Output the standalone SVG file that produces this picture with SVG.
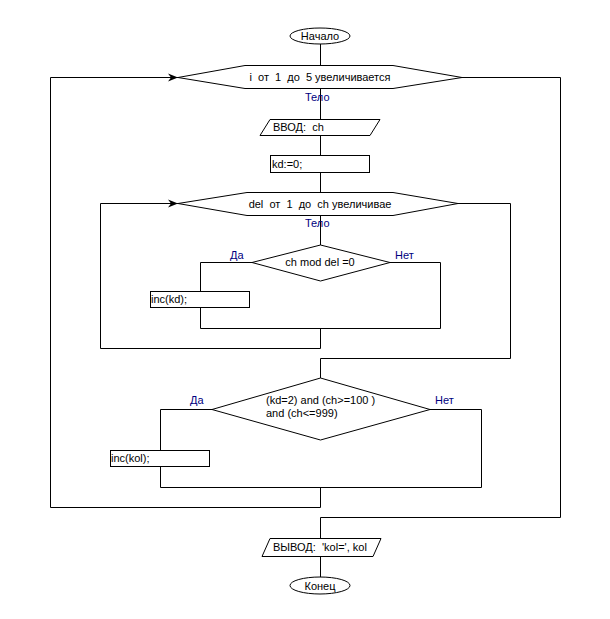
<svg xmlns="http://www.w3.org/2000/svg" width="610" height="619" viewBox="0 0 610 619">
<style>
.s{fill:#fff;stroke:#000;stroke-width:1}
.c{fill:none;stroke:#000;stroke-width:1}
.t{font-family:"Liberation Sans",Arial,sans-serif;font-size:11px;fill:#000}
.b{font-family:"Liberation Sans",Arial,sans-serif;font-size:11px;fill:#000080}
</style>
<defs>
<marker id="ar" markerWidth="12" markerHeight="10" refX="10" refY="5" orient="auto" markerUnits="userSpaceOnUse">
<path d="M0,1 L10,5 L0,9 L3,5 Z" fill="#000"/>
</marker>
</defs>
<rect width="610" height="619" fill="#fff"/>
<g id="connectors">
<path class="c" d="M320.5,44 V65"/>
<path class="c" d="M320.5,88 V119"/>
<path class="c" d="M320.5,135 V155"/>
<path class="c" d="M320.5,172 V192"/>
<path class="c" d="M320.5,215 V245"/>
<path class="c" d="M252,262.5 H200.5 V328.5 H440.5 V262.5 H390"/>
<path class="c" d="M320.5,328.5 V348.5 H100.5 V203.5 H178" marker-end="url(#ar)"/>
<path class="c" d="M458,203.5 H510.5 V358.5 H320.5 V378"/>
<path class="c" d="M212,409.5 H160.5 V487.5 H481.5 V409.5 H430"/>
<path class="c" d="M320.5,487.5 V507.5 H50.5 V77.5 H178" marker-end="url(#ar)"/>
<path class="c" d="M462,77.5 H560.5 V517.5 H320.5 V538"/>
<path class="c" d="M320.5,557 V577"/>
</g>
<g id="start">
<ellipse class="s" cx="320" cy="36" rx="30" ry="8"/>
<text class="t" x="320" y="40" text-anchor="middle">Начало</text>
</g>
<g id="loop1">
<polygon class="s" points="178,77.5 245,65.5 393,65.5 462,77.5 393,88.5 245,88.5"/>
<text class="t" x="320" y="81" text-anchor="middle" xml:space="preserve">i  от  1  до  5 увеличивается</text>
<text class="b" x="305" y="101">Тело</text>
</g>
<g id="input">
<polygon class="s" points="270,119.5 380,119.5 370,135.5 260,135.5"/>
<text class="t" x="273" y="131" xml:space="preserve">ВВОД:  ch</text>
</g>
<g id="kd0">
<rect class="s" x="270.5" y="155.5" width="99" height="17"/>
<text class="t" x="272" y="168">kd:=0;</text>
</g>
<g id="loop2">
<polygon class="s" points="178,203.5 247,192.5 393,192.5 458,203.5 393,215.5 247,215.5"/>
<text class="t" x="320" y="208" text-anchor="middle" xml:space="preserve">del  от  1  до  ch увеличивае</text>
<text class="b" x="305" y="227">Тело</text>
</g>
<g id="cond1">
<polygon class="s" points="320.5,245 390,262.5 320.5,281 252,262.5"/>
<text class="t" x="320" y="266" text-anchor="middle">ch mod del =0</text>
<text class="b" x="230" y="259">Да</text>
<text class="b" x="395" y="259">Нет</text>
</g>
<g id="inckd">
<rect class="s" x="150.5" y="291.5" width="99" height="16"/>
<text class="t" x="151" y="303">inc(kd);</text>
</g>
<g id="cond2">
<polygon class="s" points="320.5,378 430,409.5 320.5,440 212,409.5"/>
<text class="t" x="266" y="404">(kd=2) and (ch&gt;=100 )</text>
<text class="t" x="266" y="417">and (ch&lt;=999)</text>
<text class="b" x="190" y="404">Да</text>
<text class="b" x="435" y="404">Нет</text>
</g>
<g id="inckol">
<rect class="s" x="110.5" y="450.5" width="99" height="16"/>
<text class="t" x="111" y="462">inc(kol);</text>
</g>
<g id="output">
<polygon class="s" points="270,538.5 381,538.5 373,556.5 262,556.5"/>
<text class="t" x="273" y="551" xml:space="preserve">ВЫВОД:  'kol=', kol</text>
</g>
<g id="end">
<ellipse class="s" cx="320" cy="585.5" rx="30" ry="8.5"/>
<text class="t" x="320" y="589.5" text-anchor="middle">Конец</text>
</g>
</svg>
